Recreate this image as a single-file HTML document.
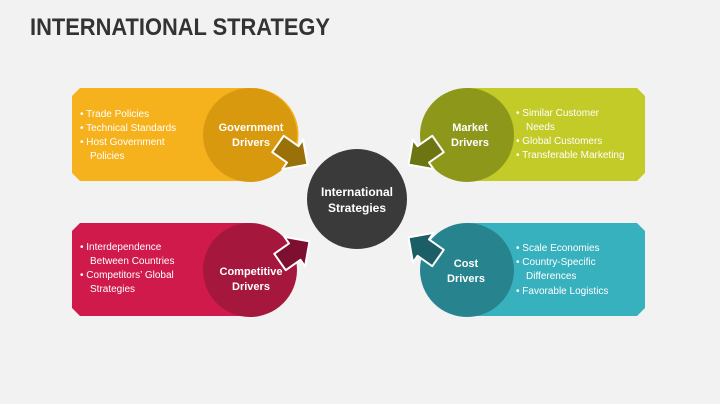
<!DOCTYPE html>
<html><head><style>body{margin:0;background:#f2f2f2}svg{display:block}</style></head><body>
<svg width="720" height="404" viewBox="0 0 720 404" xmlns="http://www.w3.org/2000/svg" font-family="Liberation Sans, sans-serif">
<rect width="720" height="404" fill="#f2f2f2"/>
<text x="30" y="35" font-size="24" font-weight="bold" fill="#333" textLength="300" lengthAdjust="spacingAndGlyphs">INTERNATIONAL STRATEGY</text>

<path d="M80 88 H252 A46.5 46.5 0 0 1 252 181 H80 L72 173 V96 Z" fill="#f5b21c"/>
<circle cx="250" cy="135" r="47" fill="#d9990f"/>
<path d="M80 223 H248 A46.5 46.5 0 0 1 248 316 H80 L72 308 V231 Z" fill="#d01a4b"/>
<circle cx="250" cy="270" r="47" fill="#a6173d"/>
<path d="M637 88 H468 A46.5 46.5 0 0 0 468 181 H637 L645 173 V96 Z" fill="#c2cb27"/>
<circle cx="467" cy="135" r="47" fill="#8d981b"/>
<path d="M637 223 H468 A46.5 46.5 0 0 0 468 316 H637 L645 308 V231 Z" fill="#38b1bf"/>
<circle cx="467" cy="270" r="47" fill="#27848f"/>

<g stroke="#fff" stroke-width="2" stroke-linejoin="round">
<path d="M0 -10 H18 V-18 L36 0 L18 18 V10 H0 Z" fill="#9a7008" transform="translate(278 144) rotate(35)"/>
<path d="M0 -10 H18 V-18 L36 0 L18 18 V10 H0 Z" fill="#7d1030" transform="translate(280 262) rotate(-35)"/>
<path d="M0 -10 H18 V-18 L36 0 L18 18 V10 H0 Z" fill="#6c7512" transform="translate(438 144) rotate(145)"/>
<path d="M0 -10 H18 V-18 L36 0 L18 18 V10 H0 Z" fill="#1c5e66" transform="translate(438 258) rotate(-145)"/>
</g>

<circle cx="357" cy="199" r="50" fill="#3a3a3a"/>
<g fill="#fff" font-weight="bold" text-anchor="middle" font-size="12">
<text x="357" y="196">International</text>
<text x="357" y="212">Strategies</text>
<text x="251" y="131" font-size="11">Government</text>
<text x="251" y="146" font-size="11">Drivers</text>
<text x="251" y="275" font-size="11">Competitive</text>
<text x="251" y="290" font-size="11">Drivers</text>
<text x="470" y="131" font-size="11">Market</text>
<text x="470" y="146" font-size="11">Drivers</text>
<text x="466" y="267" font-size="11">Cost</text>
<text x="466" y="282" font-size="11">Drivers</text>
</g>
<g fill="#fff" font-size="10">
<text x="80" y="117">•  Trade Policies</text>
<text x="80" y="131">•  Technical Standards</text>
<text x="80" y="145">•  Host Government</text>
<text x="90" y="159">Policies</text>
<text x="80" y="250">•  Interdependence</text>
<text x="90" y="264">Between Countries</text>
<text x="80" y="278">•  Competitors’ Global</text>
<text x="90" y="292">Strategies</text>
<text x="516" y="116">•  Similar Customer</text>
<text x="526" y="130">Needs</text>
<text x="516" y="144">•  Global Customers</text>
<text x="516" y="158">•  Transferable Marketing</text>
<text x="516" y="251">•  Scale Economies</text>
<text x="516" y="265">•  Country-Specific</text>
<text x="526" y="279">Differences</text>
<text x="516" y="294">•  Favorable Logistics</text>
</g>
</svg>
</body></html>
